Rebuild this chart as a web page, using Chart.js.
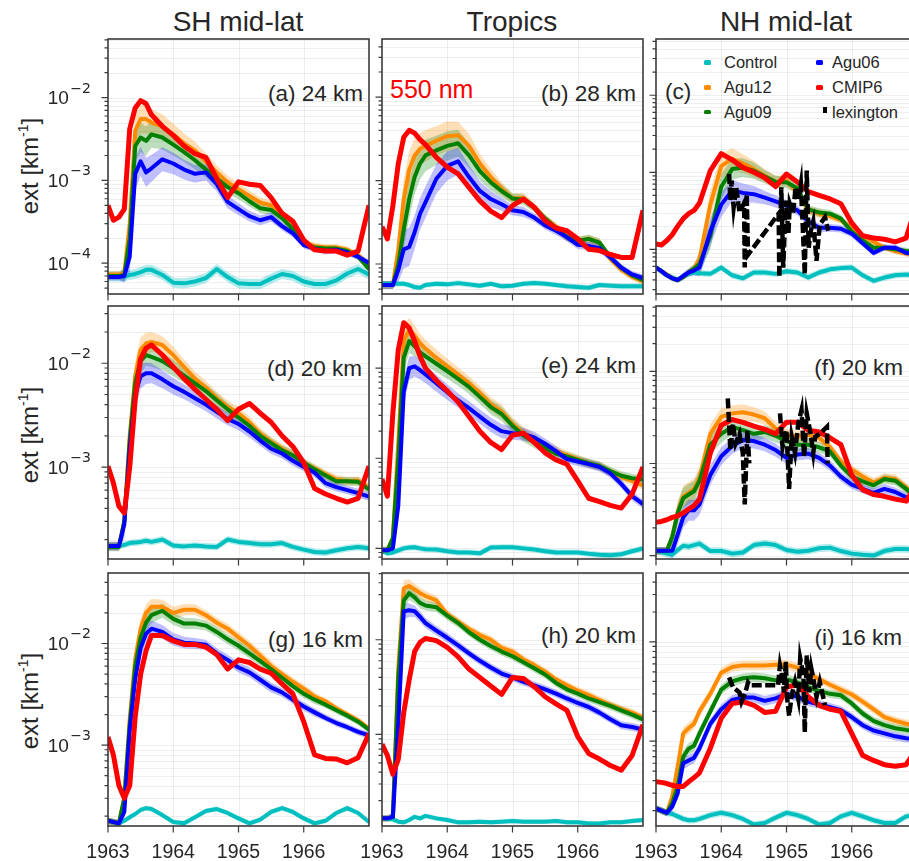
<!DOCTYPE html>
<html>
<head>
<meta charset="utf-8">
<title>Agung extinction 1963-1967</title>
<script src="https://cdn.jsdelivr.net/npm/chart.js@4.4.1/dist/chart.umd.min.js"></script>
<style>
  body { margin: 0; background: #fff; }
  #fig { position: relative; width: 909px; height: 861px; overflow: hidden; font-family: "Liberation Sans", Arial, sans-serif; color: #262626; }
  #fig canvas { position: absolute; }
  .txt { position: absolute; white-space: nowrap; line-height: 1; }
  .ttl { font-size: 28px; top: 8px; transform: translateX(-50%); }
  .lab { font-size: 22.5px; }
  .ylab { font-size: 24px; left: 30px; transform: translate(-50%, -50%) rotate(-90deg); }
  .ylab sup { font-size: 14px; vertical-align: 0; position: relative; top: -10px; }
  .leg { font-size: 16.5px; }
  .mk { position: absolute; width: 7px; height: 4.5px; border-radius: 1.5px; }
</style>
</head>
<body>
<div id="fig">
  <div class="txt ttl" style="left:238px">SH mid-lat</div>
  <div class="txt ttl" style="left:512px">Tropics</div>
  <div class="txt ttl" style="left:786px">NH mid-lat</div>

  <div class="txt ylab" style="top:166px">ext [km<sup>-1</sup>]</div>
  <div class="txt ylab" style="top:435px">ext [km<sup>-1</sup>]</div>
  <div class="txt ylab" style="top:701px">ext [km<sup>-1</sup>]</div>

  <div class="txt lab" style="right:546px;top:82.5px">(a) 24 km</div>
  <div class="txt lab" style="right:273px;top:82.5px">(b) 28 km</div>
  <div class="txt lab" style="left:665px;top:81px">(c)</div>
  <div class="txt lab" style="right:547px;top:357.5px">(d) 20 km</div>
  <div class="txt lab" style="right:273px;top:354.5px">(e) 24 km</div>
  <div class="txt lab" style="right:6px;top:356.5px">(f) 20 km</div>
  <div class="txt lab" style="right:546px;top:629px">(g) 16 km</div>
  <div class="txt lab" style="right:273px;top:624.5px">(h) 20 km</div>
  <div class="txt lab" style="right:7px;top:627px">(i) 16 km</div>

  <div class="txt" style="left:390px;top:77px;font-size:25px;color:#ff0000">550 nm</div>

  <div class="mk" style="left:704px;top:60px;background:#00bfbf"></div>
  <div class="mk" style="left:704px;top:85px;background:#ff8c00"></div>
  <div class="mk" style="left:704px;top:109.5px;background:#008000"></div>
  <div class="mk" style="left:815.5px;top:60px;background:#0000ff"></div>
  <div class="mk" style="left:815.5px;top:85px;background:#ff0000"></div>
  <div class="mk" style="left:822.5px;top:106.5px;width:4.5px;height:6px;border-radius:0;background:#000"></div>
  <div class="txt leg" style="left:724px;top:53.5px">Control</div>
  <div class="txt leg" style="left:724px;top:78.5px">Agu12</div>
  <div class="txt leg" style="left:724px;top:103.5px">Agu09</div>
  <div class="txt leg" style="left:832px;top:53.5px">Agu06</div>
  <div class="txt leg" style="left:832px;top:78.5px">CMIP6</div>
  <div class="txt leg" style="left:832px;top:103.5px">lexington</div>
</div>

<script>
// monthly for the first eight months, then every two months
const years = [1963.000, 1963.083, 1963.167, 1963.250, 1963.333, 1963.417, 1963.500, 1963.583, 1963.667,
  1963.833, 1964.000, 1964.167, 1964.333, 1964.500, 1964.667, 1964.833, 1965.000, 1965.167, 1965.333,
  1965.500, 1965.667, 1965.833, 1966.000, 1966.167, 1966.333, 1966.500, 1966.667, 1966.833, 1967.000];
const xTicks = [1963, 1964, 1965, 1966];

// (a) SH mid-lat 24 km
const ctl_a = [6.9e-5,6.9e-5,6.9e-5,6.9e-5,7.2e-5,7.4e-5,7.8e-5,8.3e-5,8.3e-5, 7.2e-5,5.8e-5,5.7e-5,6.0e-5,6.6e-5,8.5e-5,6.8e-5,5.7e-5,5.6e-5,5.6e-5, 6.5e-5,7.4e-5,7.0e-5,6.0e-5,5.6e-5,5.6e-5,6.2e-5,7.5e-5,8.5e-5,7.3e-5];
const a12_a = [7.3e-5,7.3e-5,7.3e-5,7.5e-5,3.0e-4,4.0e-3,5.5e-3,5.5e-3,5.0e-3, 4.5e-3,3.6e-3,2.8e-3,2.3e-3,1.7e-3,1.25e-3,9.5e-4,7.8e-4,6.5e-4,5.4e-4, 5.0e-4,4.0e-4,2.9e-4,1.8e-4,1.6e-4,1.55e-4,1.55e-4,1.45e-4,1.25e-4,9.5e-5];
const a09_a = [7.0e-5,7.0e-5,7.0e-5,7.2e-5,2.0e-4,2.6e-3,3.3e-3,3.0e-3,3.6e-3, 3.3e-3,2.7e-3,2.2e-3,1.75e-3,1.35e-3,1.05e-3,8.3e-4,7.0e-4,5.6e-4,4.6e-4, 4.4e-4,3.5e-4,2.6e-4,1.7e-4,1.55e-4,1.5e-4,1.5e-4,1.4e-4,1.2e-4,8.5e-5];
const a06_a = [6.8e-5,6.8e-5,6.8e-5,7.0e-5,1.2e-4,1.2e-3,1.7e-3,1.25e-3,1.4e-3, 1.8e-3,1.6e-3,1.35e-3,1.2e-3,1.25e-3,9.0e-4,5.5e-4,4.5e-4,3.7e-4,3.3e-4, 3.6e-4,2.8e-4,2.3e-4,1.65e-4,1.5e-4,1.4e-4,1.45e-4,1.35e-4,1.2e-4,1.0e-4];
const cmip_a = [5.0e-4,3.3e-4,3.6e-4,4.5e-4,4.2e-3,7.5e-3,9.2e-3,8.5e-3,6.2e-3, 4.5e-3,3.5e-3,2.6e-3,2.1e-3,1.9e-3,1.05e-3,6.2e-4,9.6e-4,9.0e-4,8.7e-4, 6.2e-4,4.0e-4,3.2e-4,1.9e-4,1.45e-4,1.4e-4,1.4e-4,1.25e-4,1.4e-4,5.0e-4];
const spr_a = [1.1,1.1,1.1,1.2,1.6,1.55,1.5,1.5,1.45,1.4,1.35,1.32,1.28,1.25,1.22,1.2,1.18,1.16,1.15,1.14,1.12,1.12,1.1,1.1,1.1,1.1,1.1,1.1,1.1];

// (b) Tropics 28 km
const ctl_b = [5.8e-5,5.8e-5,5.8e-5,5.8e-5,5.8e-5,5.6e-5,5.3e-5,5.2e-5,5.6e-5, 5.8e-5,5.7e-5,5.9e-5,5.7e-5,5.5e-5,5.8e-5,5.4e-5,5.5e-5,5.8e-5,5.9e-5, 5.8e-5,5.6e-5,5.4e-5,5.3e-5,5.2e-5,5.6e-5,5.5e-5,5.4e-5,5.4e-5,5.4e-5];
const a12_b = [5.6e-5,5.6e-5,5.6e-5,1.5e-4,6.0e-4,1.35e-3,2.0e-3,2.4e-3,2.6e-3, 3.0e-3,3.4e-3,3.5e-3,2.6e-3,1.6e-3,1.1e-3,8.0e-4,6.1e-4,6.2e-4,4.8e-4, 3.5e-4,2.8e-4,2.1e-4,1.9e-4,2.0e-4,1.8e-4,1.15e-4,8.5e-5,7.0e-5,6.2e-5];
const a09_b = [5.6e-5,5.6e-5,5.6e-5,1.0e-4,2.6e-4,6.0e-4,1.1e-3,1.6e-3,2.0e-3, 2.3e-3,2.6e-3,2.8e-3,2.0e-3,1.3e-3,9.5e-4,7.5e-4,6.1e-4,5.9e-4,4.7e-4, 3.5e-4,2.7e-4,2.1e-4,1.9e-4,2.0e-4,1.8e-4,1.2e-4,9.0e-5,7.3e-5,6.4e-5];
const a06_b = [5.6e-5,5.6e-5,5.6e-5,8.5e-5,1.5e-4,1.6e-4,2.4e-4,4.0e-4,5.5e-4, 1.05e-3,1.5e-3,1.7e-3,1.1e-3,7.5e-4,6.0e-4,5.2e-4,4.4e-4,4.2e-4,3.6e-4, 2.9e-4,2.5e-4,2.1e-4,1.7e-4,1.65e-4,1.55e-4,1.2e-4,9.0e-5,7.5e-5,6.8e-5];
const cmip_b = [2.8e-4,2.0e-4,5.0e-4,1.6e-3,3.3e-3,4.0e-3,3.7e-3,3.1e-3,2.7e-3, 1.9e-3,1.45e-3,1.2e-3,8.3e-4,5.7e-4,4.3e-4,3.6e-4,5.0e-4,6.0e-4,4.8e-4, 3.3e-4,2.7e-4,2.5e-4,2.0e-4,1.5e-4,1.45e-4,1.3e-4,1.2e-4,1.2e-4,4.4e-4];
const spr_b = [1.12,1.12,1.12,1.4,1.7,1.7,1.6,1.55,1.55,1.5,1.5,1.45,1.4,1.3,1.25,1.2,1.15,1.15,1.12,1.12,1.12,1.12,1.12,1.12,1.12,1.12,1.1,1.1,1.1];

// (c) NH mid-lat (legend panel)
const ctl_c = [5.8e-5,5.2e-5,4.6e-5,4.3e-5,4.0e-5,4.4e-5,4.8e-5,5.0e-5,4.9e-5, 4.8e-5,5.8e-5,4.6e-5,4.2e-5,5.0e-5,5.0e-5,4.8e-5,5.2e-5,5.0e-5,4.3e-5, 5.0e-5,5.5e-5,5.7e-5,5.8e-5,4.6e-5,3.9e-5,4.3e-5,4.6e-5,4.7e-5,4.6e-5];
const a12_c = [5.8e-5,5.2e-5,4.7e-5,4.2e-5,4.0e-5,4.4e-5,5.0e-5,5.6e-5,7.5e-5, 3.8e-4,1.2e-3,1.5e-3,1.3e-3,1.1e-3,9.0e-4,7.5e-4,7.8e-4,5.5e-4,3.2e-4, 2.9e-4,2.7e-4,2.4e-4,1.9e-4,1.5e-4,1.25e-4,1.05e-4,9.5e-5,8.8e-5,8.5e-5];
const a09_c = [5.8e-5,5.2e-5,4.6e-5,4.2e-5,4.0e-5,4.4e-5,5.0e-5,5.6e-5,6.5e-5, 1.5e-4,6.5e-4,1.1e-3,1.15e-3,1.05e-3,8.8e-4,7.5e-4,7.4e-4,6.2e-4,3.3e-4, 3.0e-4,2.9e-4,2.5e-4,1.7e-4,1.3e-4,1.05e-4,1.05e-4,1.0e-4,9.5e-5,9.2e-5];
const a06_c = [5.8e-5,5.2e-5,4.6e-5,4.2e-5,4.0e-5,4.5e-5,5.0e-5,5.3e-5,5.8e-5, 1.7e-4,3.8e-4,5.8e-4,5.4e-4,5.2e-4,4.7e-4,4.2e-4,3.7e-4,3.2e-4,2.3e-4, 1.9e-4,1.9e-4,1.85e-4,1.6e-4,1.2e-4,9.0e-5,1.05e-4,1.05e-4,9.0e-5,8.5e-5];
const cmip_c = [1.17e-4,1.14e-4,1.3e-4,1.55e-4,2.0e-4,2.5e-4,2.9e-4,3.2e-4,4.0e-4, 1.05e-3,1.75e-3,1.45e-3,1.15e-3,1.0e-3,8.5e-4,6.5e-4,9.5e-4,7.5e-4,5.6e-4, 5.0e-4,4.5e-4,3.9e-4,2.2e-4,1.5e-4,1.4e-4,1.35e-4,1.25e-4,1.4e-4,4.0e-4];
const spr_c = [1.08,1.08,1.08,1.08,1.08,1.1,1.12,1.15,1.3,1.5,1.45,1.38,1.32,1.28,1.22,1.2,1.18,1.16,1.14,1.14,1.12,1.12,1.12,1.1,1.1,1.1,1.1,1.1,1.1];
const lexYr_c = [1964.12,1964.14,1964.16,1964.19,1964.23,1964.28,1964.35,1964.36,1964.39,1964.41,1964.88,1964.89,1964.92,1964.95,1964.99,1965.03,1965.05,1965.10,1965.14,1965.18,1965.22,1965.25,1965.28,1965.31,1965.34,1965.37,1965.41,1965.46,1965.51,1965.59,1965.64];
const lexVal_c = [9.5e-4,4.3e-4,7.8e-4,3.5e-4,6.4e-4,3.0e-4,4.0e-4,5.8e-5,5.2e-4,8.5e-5,2.9e-4,4.3e-5,6.4e-4,5.8e-5,4.3e-4,1.6e-4,3.9e-4,2.9e-4,6.4e-4,4.3e-4,7.0e-4,1.9e-4,4.7e-5,1.05e-3,1.05e-4,1.7e-4,2.3e-4,7.1e-5,2.1e-4,2.6e-4,1.74e-4];

// (d) SH mid-lat 20 km
const ctl_d = [1.73e-4,1.73e-4,1.73e-4,1.78e-4,1.85e-4,1.87e-4,1.9e-4,1.95e-4,1.9e-4, 2.0e-4,1.75e-4,1.72e-4,1.75e-4,1.72e-4,1.7e-4,2.0e-4,1.9e-4,1.85e-4,1.8e-4, 1.8e-4,1.85e-4,1.7e-4,1.6e-4,1.52e-4,1.5e-4,1.58e-4,1.65e-4,1.7e-4,1.65e-4];
const a12_d = [1.73e-4,1.73e-4,1.73e-4,3.0e-4,2.0e-3,7.5e-3,1.35e-2,1.55e-2,1.6e-2, 1.5e-2,1.2e-2,9.2e-3,7.1e-3,5.8e-3,4.6e-3,3.8e-3,3.3e-3,2.7e-3,2.1e-3, 1.75e-3,1.5e-3,1.3e-3,1.1e-3,9.7e-4,8.5e-4,7.6e-4,7.3e-4,7.4e-4,6.3e-4];
const a09_d = [1.7e-4,1.7e-4,1.7e-4,3.0e-4,1.8e-3,6.5e-3,1.05e-2,1.2e-2,1.15e-2, 1.05e-2,9.0e-3,7.6e-3,6.4e-3,5.4e-3,4.4e-3,3.6e-3,3.0e-3,2.5e-3,2.0e-3, 1.7e-3,1.45e-3,1.3e-3,1.1e-3,9.5e-4,8.3e-4,7.3e-4,7.3e-4,7.2e-4,6.1e-4];
const a06_d = [1.73e-4,1.73e-4,1.73e-4,2.8e-4,1.5e-3,5.0e-3,7.5e-3,8.0e-3,8.0e-3, 7.0e-3,6.0e-3,5.3e-3,4.6e-3,4.0e-3,3.4e-3,2.9e-3,2.6e-3,2.2e-3,1.8e-3, 1.5e-3,1.35e-3,1.15e-3,1.0e-3,8.8e-4,7.0e-4,6.4e-4,6.0e-4,5.6e-4,5.2e-4];
const cmip_d = [1.02e-3,7.0e-4,4.2e-4,3.6e-4,1.0e-3,4.5e-3,1.1e-2,1.4e-2,1.5e-2, 1.2e-2,9.2e-3,7.1e-3,5.6e-3,4.5e-3,3.6e-3,2.8e-3,3.6e-3,4.1e-3,3.3e-3, 2.7e-3,2.0e-3,1.58e-3,1.1e-3,6.2e-4,5.5e-4,5.0e-4,4.6e-4,5.0e-4,1.02e-3];
const spr_d = [1.1,1.1,1.1,1.35,1.5,1.4,1.32,1.27,1.25,1.22,1.2,1.18,1.17,1.16,1.16,1.15,1.15,1.14,1.13,1.12,1.12,1.12,1.1,1.1,1.1,1.1,1.1,1.1,1.1];

// (e) Tropics 24 km
const ctl_e = [9.5e-5,8.8e-5,9.0e-5,9.5e-5,1.0e-4,1.02e-4,1.03e-4,1.0e-4,9.8e-5, 9.7e-5,9.3e-5,9.0e-5,9.0e-5,8.8e-5,1.02e-4,1.03e-4,1.03e-4,1.0e-4,9.7e-5, 9.3e-5,9.0e-5,9.0e-5,9.0e-5,8.7e-5,8.5e-5,8.4e-5,8.6e-5,9.3e-5,1.0e-4];
const a12_e = [9.5e-5,9.5e-5,1.3e-4,1.5e-3,2.0e-2,2.7e-2,2.3e-2,1.9e-2,1.65e-2, 1.3e-2,1.05e-2,8.5e-3,6.8e-3,5.3e-3,4.0e-3,3.3e-3,2.4e-3,1.9e-3,1.6e-3, 1.35e-3,1.2e-3,1.08e-3,9.8e-4,8.8e-4,8.2e-4,7.0e-4,6.2e-4,5.6e-4,5.0e-4];
const a09_e = [9.5e-5,9.5e-5,1.3e-4,1.0e-3,1.3e-2,2.0e-2,1.75e-2,1.5e-2,1.35e-2, 1.12e-2,9.3e-3,7.6e-3,6.2e-3,4.8e-3,3.7e-3,3.1e-3,2.3e-3,1.8e-3,1.5e-3, 1.3e-3,1.12e-3,1.05e-3,9.6e-4,8.8e-4,8.2e-4,7.2e-4,6.4e-4,6.0e-4,5.8e-4];
const a06_e = [9.5e-5,9.5e-5,1.0e-4,3.0e-4,5.5e-3,1.0e-2,1.05e-2,9.5e-3,8.5e-3, 6.8e-3,5.4e-3,4.4e-3,3.6e-3,2.9e-3,2.35e-3,2.0e-3,1.9e-3,1.85e-3,1.7e-3, 1.45e-3,1.2e-3,9.8e-4,9.2e-4,8.6e-4,8.0e-4,6.8e-4,5.2e-4,3.8e-4,3.1e-4];
const cmip_e = [5.9e-4,3.8e-4,3.2e-3,1.6e-2,3.2e-2,2.8e-2,2.0e-2,1.35e-2,1.0e-2, 7.3e-3,5.6e-3,4.2e-3,2.9e-3,2.0e-3,1.5e-3,1.25e-3,1.8e-3,1.9e-3,1.5e-3, 1.15e-3,9.6e-4,8.6e-4,5.6e-4,3.6e-4,3.3e-4,3.0e-4,2.8e-4,4.0e-4,8.0e-4];
const spr_e = [1.1,1.1,1.1,1.45,1.45,1.35,1.3,1.27,1.25,1.24,1.22,1.2,1.2,1.2,1.2,1.2,1.18,1.18,1.16,1.14,1.14,1.12,1.12,1.12,1.12,1.12,1.12,1.12,1.12];

// (f) NH mid-lat 20 km
const ctl_f = [1.13e-4,1.1e-4,1.05e-4,1.03e-4,1.15e-4,1.28e-4,1.25e-4,1.3e-4,1.35e-4, 1.12e-4,1.12e-4,1.05e-4,1.08e-4,1.3e-4,1.35e-4,1.3e-4,1.15e-4,1.1e-4,1.13e-4, 1.2e-4,1.22e-4,1.12e-4,1.05e-4,1.02e-4,1.0e-4,1.12e-4,1.18e-4,1.18e-4,1.15e-4];
const a12_f = [1.13e-4,1.13e-4,1.13e-4,1.6e-4,3.0e-4,4.4e-4,4.8e-4,5.3e-4,7.0e-4, 2.1e-3,3.2e-3,3.5e-3,3.6e-3,3.4e-3,3.1e-3,2.4e-3,2.05e-3,1.95e-3,2.05e-3, 1.9e-3,1.5e-3,1.05e-3,8.6e-4,7.2e-4,6.2e-4,7.0e-4,6.8e-4,5.5e-4,4.0e-4];
const a09_f = [1.13e-4,1.13e-4,1.13e-4,1.6e-4,2.9e-4,4.2e-4,4.6e-4,5.0e-4,6.5e-4, 1.6e-3,2.1e-3,2.5e-3,2.3e-3,2.1e-3,2.2e-3,2.0e-3,1.75e-3,1.6e-3,1.6e-3, 1.5e-3,1.35e-3,9.5e-4,7.2e-4,6.4e-4,5.8e-4,6.8e-4,6.5e-4,5.3e-4,4.2e-4];
const a06_f = [1.13e-4,1.13e-4,1.13e-4,1.13e-4,1.7e-4,2.6e-4,3.1e-4,3.1e-4,3.6e-4, 7.5e-4,1.2e-3,1.55e-3,1.8e-3,1.75e-3,1.6e-3,1.4e-3,1.15e-3,1.25e-3,1.28e-3, 1.15e-3,9.5e-4,7.2e-4,5.9e-4,5.3e-4,4.8e-4,5.3e-4,4.9e-4,4.3e-4,3.5e-4];
const cmip_f = [2.3e-4,2.35e-4,2.45e-4,2.6e-4,2.7e-4,2.9e-4,3.2e-4,3.5e-4,4.1e-4, 1.3e-3,2.6e-3,3.0e-3,2.8e-3,2.55e-3,2.35e-3,2.1e-3,2.8e-3,2.8e-3,2.3e-3, 2.2e-3,1.9e-3,1.6e-3,7.5e-4,5.2e-4,4.6e-4,4.4e-4,4.1e-4,3.9e-4,6.0e-4];
const spr_f = [1.1,1.1,1.1,1.2,1.3,1.3,1.3,1.3,1.3,1.28,1.25,1.22,1.22,1.2,1.18,1.18,1.16,1.16,1.15,1.14,1.14,1.12,1.12,1.12,1.12,1.12,1.12,1.12,1.12];
const lexYr_f = [1964.10,1964.14,1964.18,1964.22,1964.28,1964.33,1964.36,1964.40,1964.43,1964.66,1964.90,1964.94,1965.00,1965.04,1965.08,1965.13,1965.18,1965.23,1965.27,1965.31,1965.36,1965.41,1965.44,1965.51,1965.62,1965.63];
const lexVal_f = [5.1e-3,1.4e-3,2.7e-3,1.65e-3,2.1e-3,1.3e-3,3.6e-4,2.3e-3,1.0e-3,null,3.5e-3,1.5e-3,2.3e-3,5.3e-4,1.95e-3,1.3e-3,2.7e-3,3.8e-3,1.18e-3,3.5e-3,2.3e-3,1.3e-3,1.95e-3,2.1e-3,2.5e-3,1.0e-3];

// (g) SH mid-lat 16 km
const ctl_g = [1.8e-4,1.75e-4,1.7e-4,1.8e-4,1.95e-4,2.1e-4,2.3e-4,2.4e-4,2.35e-4, 2.05e-4,1.75e-4,1.7e-4,1.95e-4,2.25e-4,2.35e-4,2.15e-4,1.9e-4,1.7e-4,1.85e-4, 2.2e-4,2.4e-4,2.2e-4,1.9e-4,1.7e-4,1.8e-4,2.15e-4,2.4e-4,2.15e-4,1.75e-4];
const a12_g = [1.8e-4,1.75e-4,1.7e-4,3.0e-4,1.8e-3,7.0e-3,1.4e-2,2.0e-2,2.3e-2, 2.3e-2,2.0e-2,2.15e-2,2.15e-2,1.9e-2,1.6e-2,1.4e-2,1.15e-2,9.5e-3,7.6e-3, 6.0e-3,5.0e-3,4.2e-3,3.6e-3,3.0e-3,2.7e-3,2.3e-3,2.0e-3,1.75e-3,1.45e-3];
const a09_g = [1.8e-4,1.75e-4,1.7e-4,3.0e-4,1.6e-3,6.0e-3,1.15e-2,1.6e-2,1.9e-2, 2.1e-2,1.75e-2,1.57e-2,1.57e-2,1.5e-2,1.3e-2,1.1e-2,9.5e-3,8.0e-3,6.7e-3, 5.6e-3,4.6e-3,3.8e-3,3.2e-3,2.8e-3,2.5e-3,2.2e-3,1.95e-3,1.7e-3,1.42e-3];
const a06_g = [1.8e-4,1.75e-4,1.7e-4,2.2e-4,1.4e-3,4.5e-3,9.0e-3,1.25e-2,1.4e-2, 1.3e-2,1.1e-2,1.02e-2,1.0e-2,9.7e-3,8.0e-3,6.9e-3,5.8e-3,5.2e-3,4.4e-3, 3.7e-3,3.3e-3,2.8e-3,2.4e-3,2.1e-3,1.85e-3,1.65e-3,1.5e-3,1.35e-3,1.25e-3];
const cmip_g = [1.2e-3,8.0e-4,4.0e-4,3.0e-4,4.0e-4,1.9e-3,5.0e-3,8.5e-3,1.2e-2, 1.2e-2,1.06e-2,9.8e-3,9.8e-3,9.2e-3,7.8e-3,5.6e-3,6.9e-3,6.5e-3,5.6e-3, 5.1e-3,4.0e-3,3.2e-3,1.7e-3,8.0e-4,7.4e-4,7.3e-4,6.7e-4,7.5e-4,1.3e-3];
const spr_g = [1.08,1.08,1.08,1.25,1.4,1.32,1.25,1.22,1.2,1.17,1.15,1.14,1.13,1.12,1.12,1.12,1.12,1.12,1.12,1.12,1.1,1.1,1.1,1.1,1.08,1.08,1.08,1.08,1.08];

// (h) Tropics 20 km
const ctl_h = [1.3e-4,1.28e-4,1.27e-4,1.2e-4,1.18e-4,1.25e-4,1.35e-4,1.3e-4,1.38e-4, 1.3e-4,1.25e-4,1.18e-4,1.18e-4,1.2e-4,1.18e-4,1.2e-4,1.22e-4,1.2e-4,1.2e-4, 1.2e-4,1.22e-4,1.18e-4,1.18e-4,1.15e-4,1.15e-4,1.18e-4,1.18e-4,1.22e-4,1.25e-4];
const a12_h = [1.3e-4,1.3e-4,1.35e-4,5.0e-3,3.5e-2,3.7e-2,3.4e-2,3.1e-2,2.9e-2, 2.6e-2,1.85e-2,1.55e-2,1.3e-2,1.12e-2,1.0e-2,8.2e-3,7.5e-3,6.2e-3,5.4e-3, 4.6e-3,3.8e-3,3.3e-3,2.9e-3,2.6e-3,2.3e-3,2.05e-3,1.85e-3,1.7e-3,1.5e-3];
const a09_h = [1.3e-4,1.3e-4,1.35e-4,4.0e-3,2.6e-2,3.1e-2,2.8e-2,2.45e-2,2.3e-2, 2.2e-2,1.8e-2,1.5e-2,1.2e-2,1.0e-2,8.6e-3,7.5e-3,6.7e-3,5.8e-3,5.0e-3, 4.3e-3,3.5e-3,3.0e-3,2.7e-3,2.4e-3,2.2e-3,2.0e-3,1.8e-3,1.62e-3,1.44e-3];
const a06_h = [1.3e-4,1.3e-4,1.35e-4,1.3e-3,2.0e-2,2.05e-2,2.0e-2,1.75e-2,1.5e-2, 1.25e-2,1.05e-2,8.7e-3,7.2e-3,6.0e-3,5.1e-3,4.4e-3,4.0e-3,3.6e-3,3.3e-3, 3.0e-3,2.7e-3,2.4e-3,2.15e-3,1.95e-3,1.7e-3,1.45e-3,1.25e-3,1.2e-3,1.13e-3];
const cmip_h = [7.9e-4,6.0e-4,3.8e-4,5.5e-4,1.7e-3,3.8e-3,7.5e-3,9.4e-3,1.03e-2, 9.8e-3,8.3e-3,6.6e-3,4.9e-3,4.0e-3,3.25e-3,2.65e-3,4.0e-3,3.9e-3,3.2e-3, 2.5e-3,2.1e-3,1.8e-3,9.5e-4,6.3e-4,5.5e-4,4.7e-4,4.2e-4,6.0e-4,1.27e-3];
const spr_h = [1.08,1.08,1.1,1.35,1.22,1.18,1.15,1.14,1.13,1.12,1.12,1.11,1.1,1.1,1.1,1.1,1.1,1.1,1.1,1.1,1.1,1.1,1.1,1.1,1.1,1.1,1.1,1.1,1.1];

// (i) NH mid-lat 16 km
const ctl_i = [2.1e-4,2.0e-4,1.9e-4,1.85e-4,1.75e-4,1.65e-4,1.6e-4,1.6e-4,1.65e-4, 1.8e-4,1.9e-4,1.8e-4,1.65e-4,1.45e-4,1.5e-4,1.7e-4,1.9e-4,1.8e-4,1.65e-4, 1.45e-4,1.5e-4,1.75e-4,1.9e-4,1.75e-4,1.6e-4,1.5e-4,1.5e-4,1.75e-4,1.8e-4];
const a12_i = [2.1e-4,2.0e-4,1.9e-4,2.8e-4,5.6e-4,1.2e-3,1.35e-3,1.5e-3,2.0e-3, 3.0e-3,4.9e-3,5.6e-3,5.8e-3,5.8e-3,5.8e-3,5.9e-3,5.9e-3,5.5e-3,4.8e-3, 4.2e-3,3.7e-3,3.3e-3,2.95e-3,2.5e-3,2.1e-3,1.75e-3,1.6e-3,1.5e-3,1.45e-3];
const a09_i = [2.1e-4,2.0e-4,1.9e-4,2.4e-4,3.5e-4,7.0e-4,8.4e-4,9.0e-4,1.2e-3, 2.0e-3,3.3e-3,4.0e-3,4.3e-3,4.4e-3,4.3e-3,4.1e-3,4.2e-3,3.9e-3,3.5e-3, 3.2e-3,3.0e-3,2.9e-3,2.4e-3,1.9e-3,1.6e-3,1.45e-3,1.35e-3,1.3e-3,1.27e-3];
const a06_i = [2.1e-4,2.0e-4,1.9e-4,2.2e-4,3.0e-4,6.0e-4,6.4e-4,6.8e-4,8.5e-4, 1.5e-3,2.1e-3,2.6e-3,2.75e-3,2.75e-3,2.55e-3,2.7e-3,3.0e-3,2.8e-3,2.5e-3, 2.35e-3,2.2e-3,2.05e-3,1.75e-3,1.45e-3,1.28e-3,1.2e-3,1.12e-3,1.07e-3,1.05e-3];
const cmip_i = [3.9e-4,3.85e-4,3.75e-4,3.6e-4,3.5e-4,3.5e-4,3.9e-4,4.3e-4,4.8e-4, 8.5e-4,1.7e-3,2.4e-3,2.5e-3,2.3e-3,1.95e-3,2.0e-3,3.5e-3,3.7e-3,2.8e-3, 2.3e-3,2.1e-3,2.0e-3,1.2e-3,7.2e-4,6.4e-4,5.8e-4,5.6e-4,5.8e-4,8.5e-4];
const spr_i = [1.08,1.08,1.08,1.12,1.15,1.15,1.14,1.14,1.14,1.13,1.12,1.12,1.12,1.12,1.12,1.12,1.12,1.12,1.12,1.1,1.1,1.1,1.1,1.1,1.1,1.1,1.1,1.1,1.1];
const lexYr_i = [1964.12,1964.18,1964.28,1964.31,1964.37,1964.41,1964.44,1964.87,1964.90,1964.94,1964.96,1964.99,1965.01,1965.04,1965.08,1965.13,1965.18,1965.21,1965.26,1965.28,1965.31,1965.35,1965.38,1965.42,1965.46,1965.51,1965.59];
const lexVal_i = [4.4e-3,3.5e-3,3.1e-3,2.5e-3,3.1e-3,3.9e-3,3.65e-3,3.65e-3,5.8e-3,4.3e-3,3.1e-3,6.3e-3,2.7e-3,1.8e-3,2.9e-3,3.95e-3,2.7e-3,6.8e-3,4.6e-3,1.23e-3,7.3e-3,3.1e-3,5.4e-3,3.95e-3,2.8e-3,3.95e-3,2.3e-3];

// axis limits per panel (a..i), and the ensemble spread of the control run
const yMin = [4.24e-5, 4.37e-5, 2.63e-5, 1.30e-4, 7.62e-5, 9.18e-5, 1.60e-4, 1.08e-4, 1.40e-4];
const yMax = [5.11e-2, 4.97e-2, 5.37e-2, 3.56e-2, 4.90e-2, 5.13e-2, 4.94e-2, 5.07e-2, 4.94e-2];
const ctlSpr = [1.15, 1.08, 1.1, 1.08, 1.08, 1.1, 1.06, 1.06, 1.08];

const COLORS = { ctl: '#00bfbf', a12: '#ff8c00', a09: '#008000', a06: '#0000ff', cmip: '#ff0000', lex: '#000000' };
const BANDS = { ctl: 'rgba(0,191,191,0.30)', a12: 'rgba(255,140,0,0.28)', a09: 'rgba(0,128,0,0.26)', a06: 'rgba(0,0,255,0.25)' };

const panels = [
  { row: 0, col: 0, ctl: ctl_a, a12: a12_a, a09: a09_a, a06: a06_a, cmip: cmip_a, spr: spr_a },
  { row: 0, col: 1, ctl: ctl_b, a12: a12_b, a09: a09_b, a06: a06_b, cmip: cmip_b, spr: spr_b },
  { row: 0, col: 2, ctl: ctl_c, a12: a12_c, a09: a09_c, a06: a06_c, cmip: cmip_c, spr: spr_c, lexX: lexYr_c, lexY: lexVal_c },
  { row: 1, col: 0, ctl: ctl_d, a12: a12_d, a09: a09_d, a06: a06_d, cmip: cmip_d, spr: spr_d },
  { row: 1, col: 1, ctl: ctl_e, a12: a12_e, a09: a09_e, a06: a06_e, cmip: cmip_e, spr: spr_e },
  { row: 1, col: 2, ctl: ctl_f, a12: a12_f, a09: a09_f, a06: a06_f, cmip: cmip_f, spr: spr_f, lexX: lexYr_f, lexY: lexVal_f },
  { row: 2, col: 0, ctl: ctl_g, a12: a12_g, a09: a09_g, a06: a06_g, cmip: cmip_g, spr: spr_g },
  { row: 2, col: 1, ctl: ctl_h, a12: a12_h, a09: a09_h, a06: a06_h, cmip: cmip_h, spr: spr_h },
  { row: 2, col: 2, ctl: ctl_i, a12: a12_i, a09: a09_i, a06: a06_i, cmip: cmip_i, spr: spr_i, lexX: lexYr_i, lexY: lexVal_i },
];

// plot boxes in page pixels
const COL_X = [108, 382, 656];
const ROW_Y = [39, 306, 573];
const ROW_H = [255, 253, 253];
const PLOT_W = 261;
const PAD = { left: 100, top: 10, right: 10, bottom: 40 };

const INK = '#3b3b3b';
const FONT = '"Liberation Sans", Arial, sans-serif';

function pts(xs, ys) { return xs.map((x, i) => ({ x, y: ys[i] })); }

function logTicks(min, max) {
  const out = [];
  for (let e = Math.floor(Math.log10(min)); e <= Math.ceil(Math.log10(max)); e++) {
    for (let k = 1; k <= 9; k++) {
      const v = k * Math.pow(10, e);
      if (v >= min && v <= max) out.push({ v, major: k === 1, exp: e });
    }
  }
  return out;
}

const framePlugin = {
  id: 'frame',
  beforeDatasetsDraw(chart) {
    const { ctx, chartArea: a, scales: { x, y } } = chart;
    ctx.save();
    ctx.lineWidth = 1;
    ctx.strokeStyle = 'rgba(0,0,0,0.065)';
    ctx.beginPath();
    logTicks(y.min, y.max).forEach(t => {
      const py = Math.round(y.getPixelForValue(t.v)) + 0.5;
      ctx.moveTo(a.left, py); ctx.lineTo(a.right, py);
    });
    xTicks.slice(1).forEach(v => {
      const px = Math.round(x.getPixelForValue(v)) + 0.5;
      ctx.moveTo(px, a.top); ctx.lineTo(px, a.bottom);
    });
    ctx.stroke();
    ctx.restore();
  },
  afterDatasetsDraw(chart, args, opts) {
    const { ctx, chartArea: a, scales: { x, y } } = chart;
    ctx.save();
    ctx.strokeStyle = INK;
    ctx.lineWidth = 1.2;
    ctx.beginPath();
    const ticks = logTicks(y.min, y.max);
    ticks.forEach(t => {
      const py = y.getPixelForValue(t.v);
      ctx.moveTo(a.left - (t.major ? 6.5 : 3.5), py); ctx.lineTo(a.left, py);
    });
    xTicks.forEach(v => {
      const px = x.getPixelForValue(v);
      ctx.moveTo(px, a.bottom); ctx.lineTo(px, a.bottom + 6.5);
    });
    ctx.stroke();
    ctx.lineWidth = 1.6;
    ctx.strokeRect(a.left, a.top, a.right - a.left, a.bottom - a.top);

    ctx.fillStyle = '#262626';
    if (opts.col === 0) {
      ticks.filter(t => t.major).forEach(t => {
        const py = y.getPixelForValue(t.v);
        const sup = '\u2212' + (-t.exp);
        ctx.textAlign = 'right';
        ctx.textBaseline = 'alphabetic';
        ctx.font = '14px "DejaVu Sans", sans-serif';
        const ws = ctx.measureText(sup).width;
        const rx = a.left - 17;
        ctx.fillText(sup, rx, py - 5);
        ctx.font = '19px ' + FONT;
        ctx.fillText('10', rx - ws - 1.5, py + 6.8);
      });
    }
    if (opts.row === 2) {
      ctx.font = '19.5px ' + FONT;
      ctx.textAlign = 'center';
      ctx.textBaseline = 'alphabetic';
      xTicks.forEach(v => ctx.fillText(String(v), x.getPixelForValue(v), a.bottom + 32));
    }
    ctx.restore();
  }
};

function bandSets(vals, spread, color, order) {
  const lo = vals.map((v, i) => v / (Array.isArray(spread) ? spread[i] : spread));
  const hi = vals.map((v, i) => v * (Array.isArray(spread) ? spread[i] : spread));
  return [
    { data: pts(years, lo), borderWidth: 0, pointRadius: 0, fill: false, order, clip: 0 },
    { data: pts(years, hi), borderWidth: 0, pointRadius: 0, fill: '-1', backgroundColor: color, order, clip: 0 },
  ];
}

function lineSet(vals, color, width, order) {
  return { data: pts(years, vals), borderColor: color, borderWidth: width, pointRadius: 0, fill: false,
    tension: 0, borderJoinStyle: 'round', order, clip: 0 };
}

const fig = document.getElementById('fig');

panels.forEach((p, n) => {
  const h = ROW_H[p.row];
  const cv = document.createElement('canvas');
  const w = PAD.left + PLOT_W + PAD.right;
  const ht = PAD.top + h + PAD.bottom;
  cv.width = w; cv.height = ht;
  cv.style.width = w + 'px'; cv.style.height = ht + 'px';
  cv.style.left = (COL_X[p.col] - PAD.left) + 'px';
  cv.style.top = (ROW_Y[p.row] - PAD.top) + 'px';
  fig.appendChild(cv);

  const datasets = [
    ...bandSets(p.ctl, ctlSpr[n], BANDS.ctl, 9),
    ...bandSets(p.a12, p.spr, BANDS.a12, 8),
    ...bandSets(p.a09, p.spr, BANDS.a09, 7),
    ...bandSets(p.a06, p.spr, BANDS.a06, 6),
    lineSet(p.ctl, COLORS.ctl, 4, 5),
    lineSet(p.a12, COLORS.a12, 4, 4),
    lineSet(p.a09, COLORS.a09, 4, 3),
    lineSet(p.a06, COLORS.a06, 4, 2),
    lineSet(p.cmip, COLORS.cmip, 5, 1),
  ];
  if (p.lexX) {
    datasets.push({ data: pts(p.lexX, p.lexY), borderColor: COLORS.lex, borderWidth: 4.5, borderDash: [10, 3.5],
      pointRadius: 0, fill: false, tension: 0, spanGaps: false, order: 0, clip: 0 });
  }

  new Chart(cv, {
    type: 'line',
    data: { datasets },
    options: {
      responsive: false,
      animation: false,
      devicePixelRatio: 1,
      layout: { padding: { left: PAD.left, top: PAD.top, right: PAD.right, bottom: PAD.bottom } },
      plugins: { legend: { display: false }, tooltip: { enabled: false }, frame: { row: p.row, col: p.col } },
      scales: {
        x: { type: 'linear', min: 1963, max: 1967, display: false },
        y: { type: 'logarithmic', min: yMin[n], max: yMax[n], display: false },
      },
    },
    plugins: [framePlugin],
  });
});
</script>
</body>
</html>
